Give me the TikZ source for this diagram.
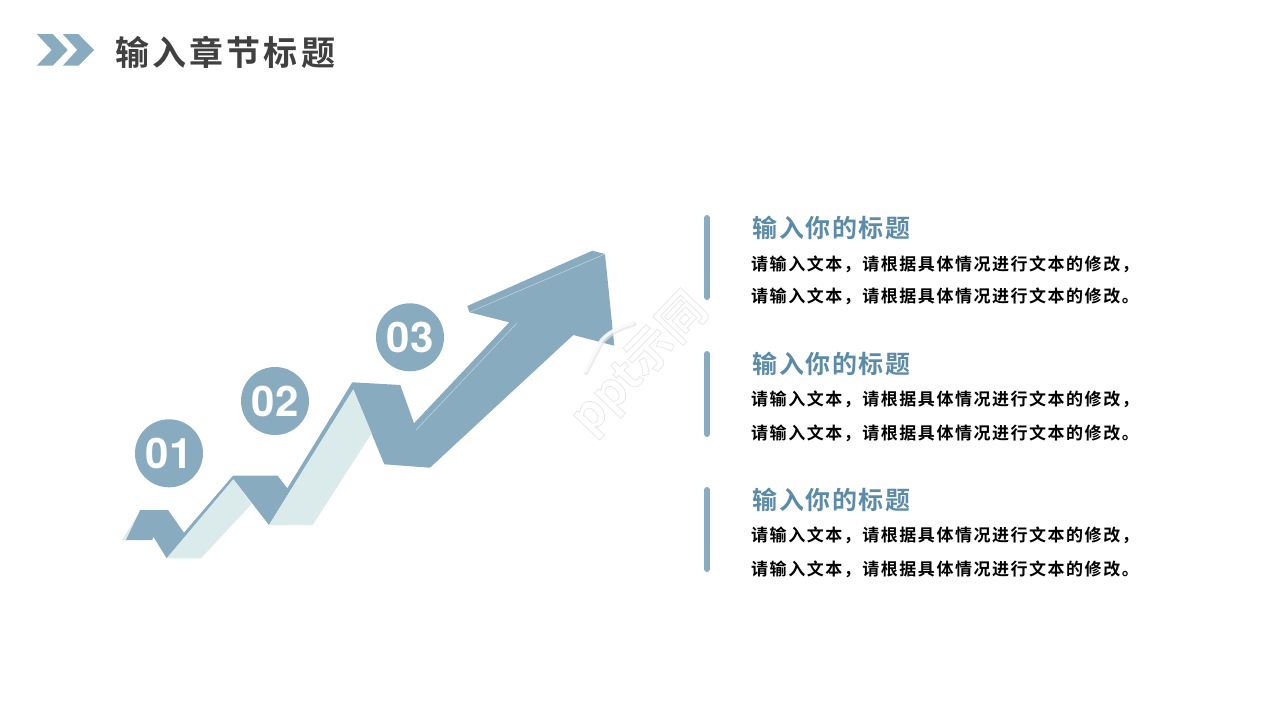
\documentclass[tikz,border=0pt]{standalone}
\usepackage{fontspec}
\newfontfamily\cjkhead[LetterSpace=9]{Noto Sans CJK SC Bold}
\newfontfamily\cjksub[LetterSpace=6]{Noto Sans CJK SC Bold}
\newfontfamily\cjkbody[LetterSpace=9]{Noto Sans CJK SC Bold}
\newfontfamily\cjkmark{Noto Sans CJK SC Bold}
\newfontfamily\digitfont{TeX Gyre Heros}[BoldFont=* Bold]
\definecolor{steel}{HTML}{89ABBF}
\definecolor{mist}{HTML}{DBEAEB}
\definecolor{subblue}{HTML}{5B8BA8}
\definecolor{headgrey}{HTML}{404040}
\definecolor{markshade}{HTML}{E4E4E4}
\tikzset{
  darkshape/.style={fill=steel,draw=none},
  lightshape/.style={fill=mist,draw=none},
  badge/.style={circle,fill=steel,minimum size=68pt,inner sep=0pt,text=white,font=\digitfont\bfseries\fontsize{42}{42}\selectfont},
  headtext/.style={anchor=west,inner sep=0pt,text=headgrey,font=\cjkhead\fontsize{34}{34}\selectfont},
  subtext/.style={anchor=west,inner sep=0pt,text=subblue,font=\cjksub\fontsize{25}{25}\selectfont},
  bodytext/.style={anchor=west,inner sep=0pt,text=black,font=\cjkbody\fontsize{17}{17}\selectfont},
  sidebar/.style={draw=steel,line width=6pt,line cap=round},
  glint/.style={draw=white,opacity=.45,line width=.6pt},
  markbase/.style={inner sep=0pt,rotate=46,text=white,font=\cjkmark\fontsize{47}{47}\selectfont},
  roofshade/.style={draw=markshade,line width=5pt,line cap=round,opacity=.7},
  rooftop/.style={draw=white,line width=3.5pt,line cap=round,opacity=.75}
}
\newcommand{\outlinetext}[1]{\special{pdf:code 2 Tr 0.7 w 0.9 0.9 0.9 RG}#1\special{pdf:code 0 Tr}}
\begin{document}
\begin{tikzpicture}[x=1pt,y=-1pt]
\useasboundingbox (0,0) rectangle (1280,720);
% chevrons
\fill[steel] (36.7,34)--(52.7,34)--(67.7,50)--(52.7,65.7)--(36.7,65.7)--(51.7,50)--cycle;
\fill[steel] (62.7,34)--(78.3,34)--(94,50)--(78.3,65.7)--(62.7,65.7)--(77.3,50)--cycle;
\node[headtext] (title) at (115.5,52) {输入章节标题};
% ribbon
\fill[lightshape] (122,540.3)--(140.7,510)--(145,510)--(127,540.3)--cycle;
\fill[darkshape] (140.3,510)--(168,510)--(184,532.7)--(233,475.7)--(277.7,475.7)--(287.3,488.3)--(352.3,382.3)--(400.3,385)--(414,423.3)--(509.3,322.3)--(469.3,312.3)--(467.3,306)--(592.3,250.7)--(605,254)--(614.3,345.7)--(573.3,335)--(430,467.7)--(384.3,464.3)--(353.3,389.3)--(269,525)--(233.5,479.3)--(166.7,558.3)--(153.3,536.7)--(152.3,540)--(126,540)--cycle;
\fill[lightshape] (233.3,479.3)--(251.7,504)--(201,558.3)--(166.7,558.3)--cycle;
\fill[lightshape] (353.3,389.3)--(371.7,433.3)--(312.7,525)--(269,525)--cycle;
\draw[glint] (469.3,312.3)--(605,254);
\draw[glint] (516.7,323.3)--(416,430);
% badges
\node[badge] (b1) at (169,453.3) {01};
\node[badge] (b2) at (275,401) {02};
\node[badge] (b3) at (410,337.3) {03};
% rows
\draw[sidebar] (707,218)--(707,297);
\draw[sidebar] (707,354)--(707,434);
\draw[sidebar] (707,490)--(707,569);
\node[subtext] (s1) at (752.5,228) {输入你的标题};
\node[subtext] (s2) at (752.5,364) {输入你的标题};
\node[subtext] (s3) at (752.5,500) {输入你的标题};
\node[bodytext] (t1a) at (751,264.5) {请输入文本，请根据具体情况进行文本的修改，};
\node[bodytext] (t1b) at (751,296.5) {请输入文本，请根据具体情况进行文本的修改。};
\node[bodytext] (t2a) at (751,399.5) {请输入文本，请根据具体情况进行文本的修改，};
\node[bodytext] (t2b) at (751,433.5) {请输入文本，请根据具体情况进行文本的修改。};
\node[bodytext] (t3a) at (751,535.5) {请输入文本，请根据具体情况进行文本的修改，};
\node[bodytext] (t3b) at (751,569.5) {请输入文本，请根据具体情况进行文本的修改。};
% watermark
\draw[roofshade] (586,372.5)--(600,345) .. controls (606,334) and (620,328) .. (634,324);
\draw[rooftop] (585,371.5)--(599,344) .. controls (605,333) and (619,327) .. (633,323);
\node[markbase] (wm) at (640,364) {\outlinetext{ppt示同}};
\end{tikzpicture}
\end{document}
